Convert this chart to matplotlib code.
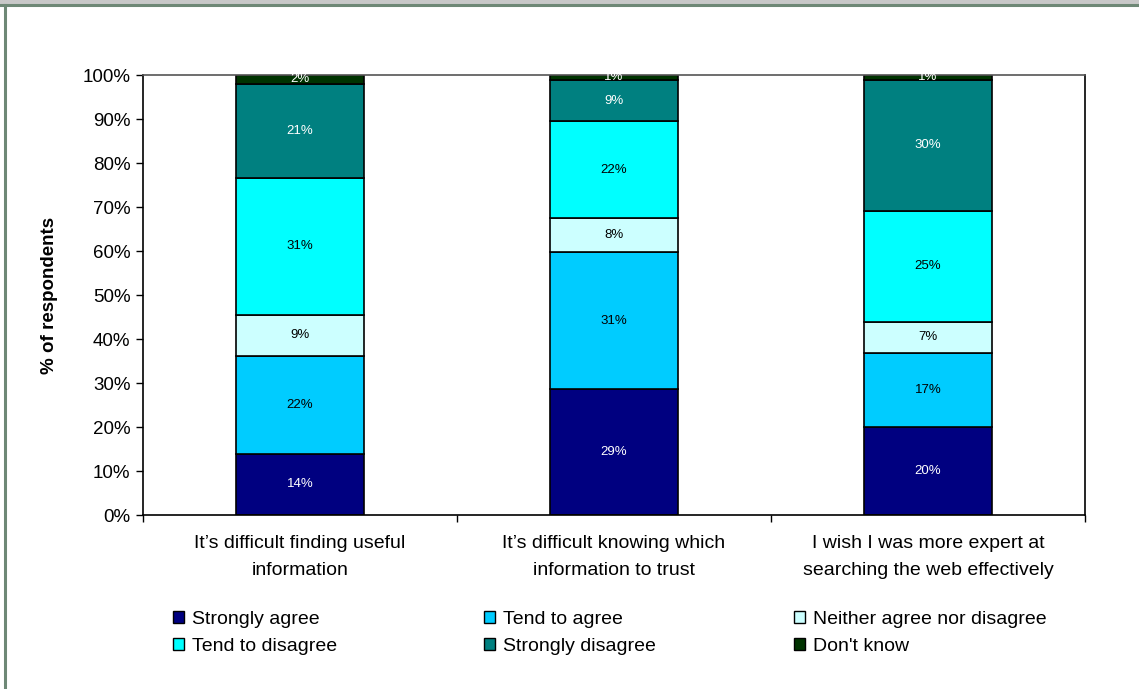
import numpy as np
import matplotlib.pyplot as plt
from matplotlib.patches import Patch

plt.rcParams['font.family'] = ['Liberation Sans', 'DejaVu Sans']

# data (% of respondents)
categories = ["It\u2019s difficult finding useful\ninformation",
              "It\u2019s difficult knowing which\ninformation to trust",
              "I wish I was more expert at\nsearching the web effectively"]
series = ["Strongly agree", "Tend to agree", "Neither agree nor disagree",
          "Tend to disagree", "Strongly disagree", "Don't know"]
strongly_agree = [13.9, 28.6, 20.0]
tend_agree = [22.2, 31.2, 16.8]
neither = [9.4, 7.7, 7.1]
tend_disagree = [31.1, 22.0, 25.2]
strongly_disagree = [21.4, 9.4, 29.8]
dont_know = [2.0, 1.1, 1.1]

colors = ["#000080", "#00CCFF", "#CCFFFF", "#00FFFF", "#008080", "#003300"]
label_colors = ["white", "black", "black", "black", "white", "white"]

values = [strongly_agree, tend_agree, neither, tend_disagree, strongly_disagree, dont_know]

fig = plt.figure(figsize=(11.39, 6.89), dpi=100)
ax = fig.add_axes([143/1139, 1 - 515/689, (1085-143)/1139, (515-75)/689])

x = np.arange(len(categories))
bottom = np.zeros(len(categories))
for vals, col, lc in zip(values, colors, label_colors):
    vals = np.array(vals)
    ax.bar(x, vals, bottom=bottom, width=0.405, color=col, edgecolor="black", linewidth=1.2)
    for xi, b, v in zip(x, bottom, vals):
        ax.text(xi, b + v / 2, f"{v:.0f}%", ha="center", va="center", fontsize=9.5, color=lc)
    bottom += vals

ax.set_xlim(-0.5, 2.5)
ax.set_ylim(0, 100)
ax.set_yticks(np.arange(0, 101, 10))
ax.set_yticklabels([f"{t}%" for t in range(0, 101, 10)], fontsize=13.5)
ax.set_xticks([-0.5, 0.5, 1.5, 2.5])
ax.set_xticklabels([])
ax.tick_params(axis="both", direction="out", length=5, width=1, color="black")
ax.tick_params(axis="y", pad=4)
for xi, c in zip(x, categories):
    ax.text(xi, -4.6, c, ha="center", va="top", fontsize=14, linespacing=1.75)
ax.set_ylabel("% of respondents", fontsize=13.5, fontweight="bold", labelpad=18)
for s in ["left", "bottom", "right"]:
    ax.spines[s].set_color("black")
    ax.spines[s].set_linewidth(1.2)
ax.spines["top"].set_color("#555555")
ax.spines["top"].set_linewidth(1.2)

# legend: three equal-width columns, two rows each
handles = [Patch(facecolor=c, edgecolor="black", linewidth=1) for c in colors]
col_x = [173, 484, 794]
for k, cx in enumerate(col_x):
    idx = [k, k + 3]
    fig.legend([handles[i] for i in idx], [series[i] for i in idx],
               loc="upper left", bbox_to_anchor=(cx/1139, 1 - 611/689),
               frameon=False, fontsize=14, handlelength=0.55, handleheight=0.55,
               handletextpad=0.45, labelspacing=0.5, borderpad=0, borderaxespad=0)

# outer frame
fig.add_artist(plt.Line2D([0, 1], [1 - 1.5/689] * 2, transform=fig.transFigure,
                          color="#c8c8c8", linewidth=3))
fig.add_artist(plt.Line2D([0, 1], [1 - 5/689] * 2, transform=fig.transFigure,
                          color="#6e8876", linewidth=2.2))
fig.add_artist(plt.Line2D([5/1139] * 2, [0, 1 - 5/689], transform=fig.transFigure,
                          color="#6e8876", linewidth=2.2))

fig.savefig("out.png", dpi=100)
